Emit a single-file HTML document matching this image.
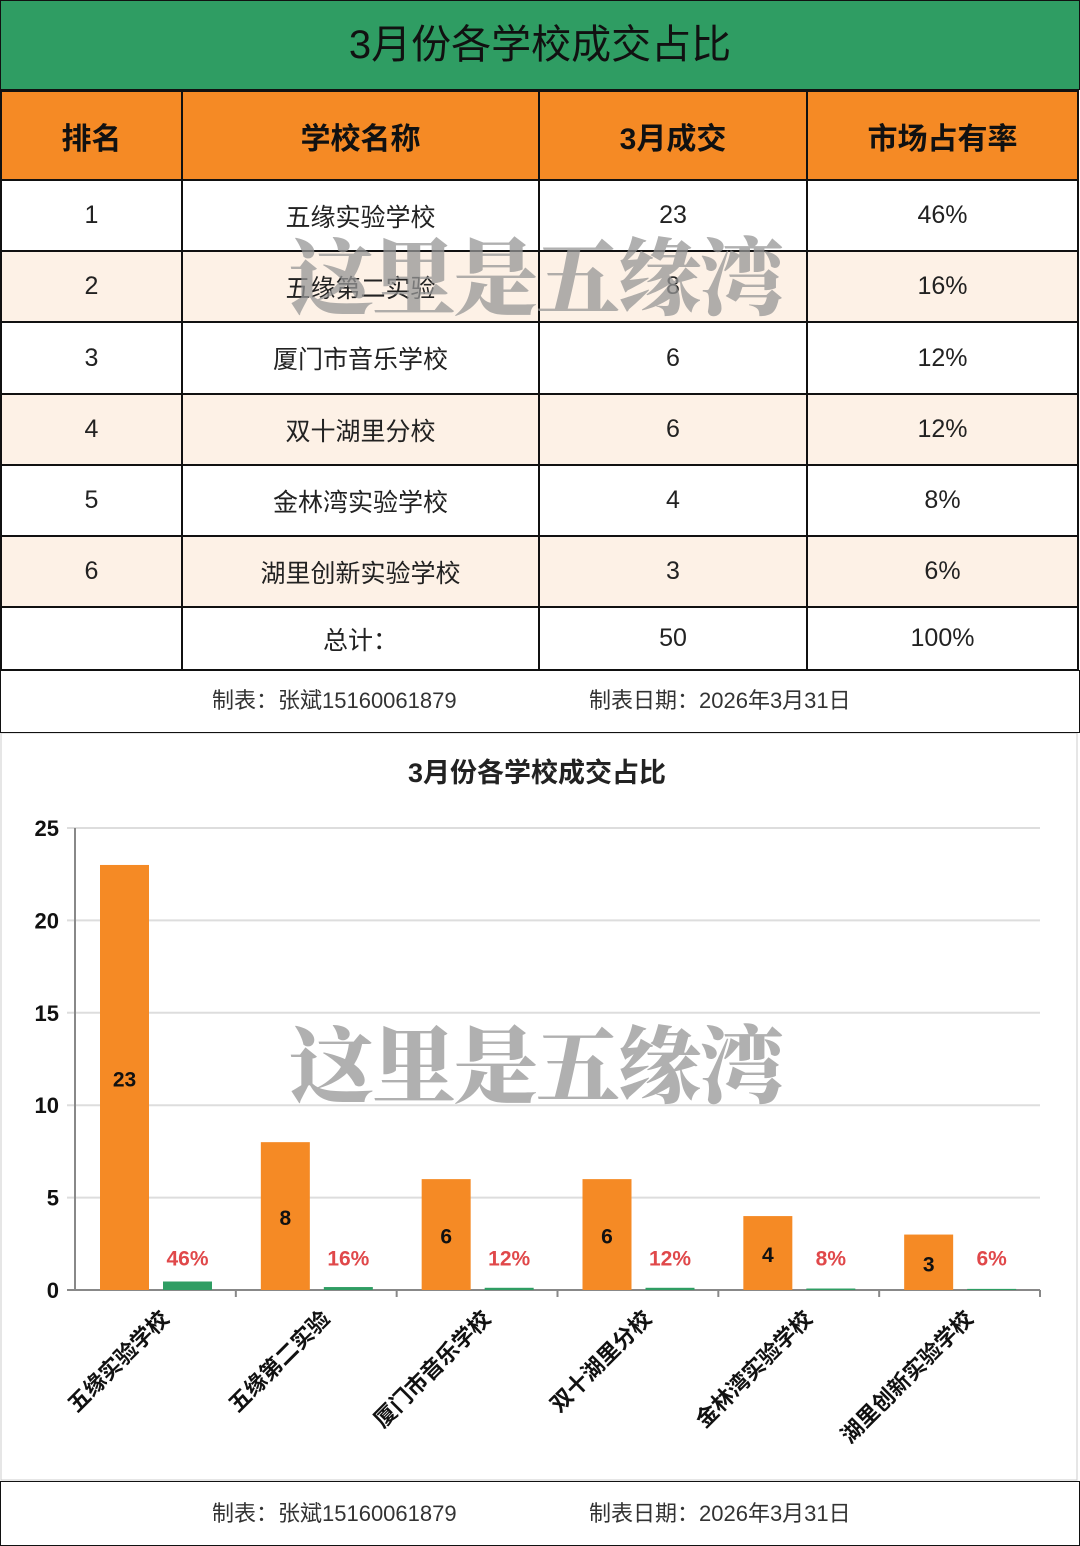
<!DOCTYPE html>
<html><head><meta charset="utf-8"><style>
body{margin:0;width:1080px;height:1546px;background:#fff;font-family:"Liberation Sans","Noto Sans CJK SC",sans-serif;position:relative;overflow:hidden}
.abs{position:absolute}
table{position:absolute;left:0;top:90px;border-collapse:collapse;width:1079px;table-layout:fixed}
td{border:2px solid #111;text-align:center;font-size:25px;color:#222;padding:0}
th{border:2px solid #111;background:#f58a25;font-size:30px;font-weight:bold;color:#111;height:87px;padding:0}
tr.alt td{background:#fdf1e6}
.wm{font-family:"Noto Serif CJK SC",serif;font-weight:900;color:rgba(150,150,150,.75);font-size:84px;letter-spacing:-2px}
</style></head><body>
<div class="abs" style="left:0;top:0;width:1078px;height:88px;background:#2f9d63;border:1px solid #111;text-align:center;line-height:88px;font-size:40px;color:#111">3月份各学校成交占比</div>
<table>
<colgroup><col style="width:181px"><col style="width:357px"><col style="width:268px"><col></colgroup>
<tr><th>排名</th><th>学校名称</th><th>3月成交</th><th>市场占有率</th></tr>
<tr style="height:71px"><td>1</td><td>五缘实验学校</td><td>23</td><td>46%</td></tr>
<tr class="alt" style="height:71px"><td>2</td><td>五缘第二实验</td><td>8</td><td>16%</td></tr>
<tr style="height:72px"><td>3</td><td>厦门市音乐学校</td><td>6</td><td>12%</td></tr>
<tr class="alt" style="height:71px"><td>4</td><td>双十湖里分校</td><td>6</td><td>12%</td></tr>
<tr style="height:71px"><td>5</td><td>金林湾实验学校</td><td>4</td><td>8%</td></tr>
<tr class="alt" style="height:71px"><td>6</td><td>湖里创新实验学校</td><td>3</td><td>6%</td></tr>
<tr style="height:63px"><td></td><td>总计：</td><td>50</td><td>100%</td></tr>
</table>
<div class="abs" style="left:0;top:670px;width:1078px;height:62px;border:1px solid #111;border-top:none;font-size:22px;color:#333;line-height:62px"><span class="abs" style="left:211px">制表：张斌15160061879</span><span class="abs" style="left:588px">制表日期：2026年3月31日</span></div>
<div class="abs wm" style="left:290px;top:212px">这里是五缘湾</div>
<svg class="abs" style="left:0;top:733px" width="1080" height="748" id="chart">
<rect x="1" y="0" width="1076" height="747" fill="#fff" stroke="#ccc"/>
<text x="537" y="49" text-anchor="middle" font-size="27" font-weight="bold" fill="#222">3月份各学校成交占比</text>
</svg>
<div class="abs wm" style="left:290px;top:1000px">这里是五缘湾</div>
<div class="abs" style="left:0;top:1481px;width:1078px;height:63px;border:1px solid #111;font-size:22px;color:#333;line-height:63px"><span class="abs" style="left:211px">制表：张斌15160061879</span><span class="abs" style="left:588px">制表日期：2026年3月31日</span></div>
<script>
const categories=["五缘实验学校","五缘第二实验","厦门市音乐学校","双十湖里分校","金林湾实验学校","湖里创新实验学校"];
const deals=[23,8,6,6,4,3];
const shares=[0.46,0.16,0.12,0.12,0.08,0.06];
const shareLabels=["46%","16%","12%","12%","8%","6%"];
const yTicks=[0,5,10,15,20,25];
const svg=document.getElementById('chart');const NS='http://www.w3.org/2000/svg';
const x0=75,x1=1040,yb=557,yt=95,ymax=25;
const y=v=>yb-(v/ymax)*(yb-yt);
const cw=(x1-x0)/categories.length;
function mk(t,a,txt){const e=document.createElementNS(NS,t);for(const k in a)e.setAttribute(k,a[k]);if(txt!==undefined)e.textContent=txt;svg.appendChild(e);return e;}
yTicks.forEach(v=>{
const g=mk('line',{x1:x0-8,x2:x1,y1:y(v),y2:y(v),stroke:v?'#ddd':'#888','stroke-width':2});


const t=mk('text',{x:59,y:y(v)+8,'text-anchor':'end','font-size':22,'font-weight':'bold',fill:'#111'},v);


});
const ax=mk('line',{x1:x0,x2:x0,y1:yt,y2:yb,stroke:'#888','stroke-width':2});


categories.forEach((c,i)=>{
const cx=x0+cw*i;
const b=mk('rect',{x:cx+25,y:y(deals[i]),width:49,height:yb-y(deals[i]),fill:'#f58a25'});


const l=mk('text',{x:cx+49.5,y:(y(deals[i])+yb)/2+9,'text-anchor':'middle','font-size':21,'font-weight':'bold',fill:'#111'},deals[i]);


const g=mk('rect',{x:cx+88,y:y(shares[i]),width:49,height:Math.max(yb-y(shares[i]),1),fill:'#2f9d63'});


const p=mk('text',{x:cx+112.5,y:y(0.46)-16,'text-anchor':'middle','font-size':21,'font-weight':'bold',fill:'#e0484a'},shareLabels[i]);


const tk=mk('line',{x1:cx+cw,x2:cx+cw,y1:yb,y2:yb+7,stroke:'#888','stroke-width':2});


const tx=cx+cw/2+15,ty=yb+30;
const xl=mk('text',{x:tx,y:ty,'text-anchor':'end','font-size':22,'font-weight':'bold',fill:'#111',transform:`rotate(-45 ${tx} ${ty})`},c);


});
</script>
</body></html>
